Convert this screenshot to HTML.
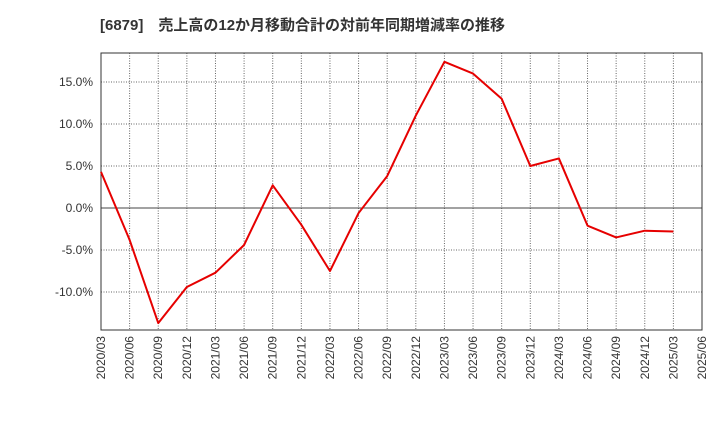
<!DOCTYPE html>
<html><head><meta charset="utf-8"><style>
body{margin:0;background:#fff;font-family:"Liberation Sans","Noto Sans CJK JP",sans-serif;}
</style></head><body>
<svg width="720" height="440" xmlns="http://www.w3.org/2000/svg">
<text x="100" y="30" font-size="15" font-weight="bold" fill="#333" font-family="Liberation Sans, Noto Sans CJK JP, sans-serif">[6879]　売上高の12か月移動合計の対前年同期増減率の推移</text>
<g id="grid"></g><g id="axes"></g><g id="series"></g>
</svg>
<script>
const categories=["2020/03","2020/06","2020/09","2020/12","2021/03","2021/06","2021/09","2021/12","2022/03","2022/06","2022/09","2022/12","2023/03","2023/06","2023/09","2023/12","2024/03","2024/06","2024/09","2024/12","2025/03","2025/06"];
const values=[4.3,-3.8,-13.7,-9.4,-7.7,-4.4,2.7,-2.0,-7.5,-0.6,3.8,11.0,17.4,16.0,13.0,5.0,5.9,-2.1,-3.5,-2.7,-2.8];
const yTicks=[15,10,5,0,-5,-10];
const yTickLabels=["15.0%","10.0%","5.0%","0.0%","-5.0%","-10.0%"];
const L=101,R=702,T=53,B=330;
const yMin=-14.52,yMax=18.45;
const xs=i=>L+(R-L)*i/(categories.length-1);
const ys=v=>B-(v-yMin)/(yMax-yMin)*(B-T);
const NS="http://www.w3.org/2000/svg";
function mk(tag,attrs,parent){const e=document.createElementNS(NS,tag);for(const k in attrs)e.setAttribute(k,attrs[k]);parent.appendChild(e);return e;}
const grid=document.getElementById('grid'),axes=document.getElementById('axes'),series=document.getElementById('series');
categories.forEach((c,i)=>{
  const x=xs(i);
  const g=mk('line',{x1:x,x2:x,y1:T,y2:B,stroke:'#666','stroke-dasharray':'1,1.5','stroke-width':1},grid);
  
  
  const t=mk('text',{x:0,y:0,'font-size':12,fill:'#333','text-anchor':'end',transform:`translate(${x+4},${B+6}) rotate(-90)`},axes);
  t.textContent=c;
  
  
});
yTicks.forEach((v,i)=>{
  const y=ys(v);
  const g=mk('line',{x1:L,x2:R,y1:y,y2:y,stroke:v===0?'#444':'#666','stroke-dasharray':v===0?'none':'1,1.5','stroke-width':1},grid);
  
  
  const t=mk('text',{x:L-8,y:y+4,'font-size':12,fill:'#333','text-anchor':'end'},axes);
  t.textContent=yTickLabels[i];
  
  
});
const fr=mk('rect',{x:L,y:T,width:R-L,height:B-T,fill:'none',stroke:'#333','stroke-width':1},axes);


const pl=mk('polyline',{points:values.map((v,i)=>xs(i)+','+ys(v)).join(' '),fill:'none',stroke:'#e60000','stroke-width':2,'stroke-linejoin':'round'},series);


</script>
</body></html>
